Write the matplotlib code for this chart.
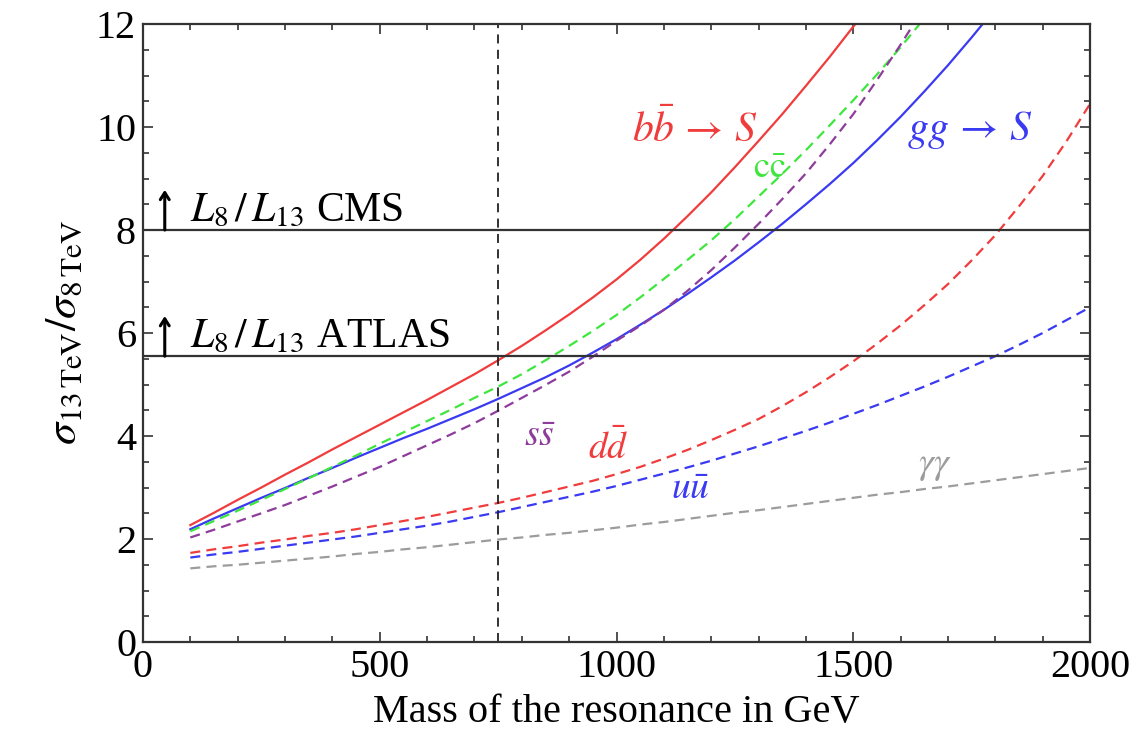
import matplotlib
matplotlib.use("Agg")
import matplotlib.pyplot as plt
from matplotlib.ticker import MultipleLocator
import numpy as np

plt.rcParams['font.family'] = ['Liberation Serif', 'DejaVu Serif']
plt.rcParams['mathtext.fontset'] = 'stix'

# ratio sigma(13 TeV)/sigma(8 TeV) vs resonance mass (GeV), 50 GeV steps
mass = list(range(100, 2001, 50))

bb = [2.27, 2.51, 2.76, 3.00, 3.25, 3.49, 3.74, 3.98, 4.22, 4.46,
      4.70, 4.95, 5.20, 5.47, 5.75, 6.05, 6.36, 6.69, 7.04, 7.42,
      7.83, 8.27, 8.73, 9.22, 9.73, 10.25, 10.80, 11.36, 11.95, 12.53,
      13.15]
gg = [2.19, 2.40, 2.60, 2.80, 2.99, 3.19, 3.38, 3.58, 3.77, 3.96,
      4.14, 4.33, 4.52, 4.72, 4.93, 5.14, 5.37, 5.62, 5.88, 6.16,
      6.45, 6.76, 7.08, 7.41, 7.76, 8.12, 8.50, 8.89, 9.30, 9.74,
      10.20, 10.69, 11.20, 11.74, 12.30]
cc = [2.15, 2.35, 2.55, 2.76, 2.97, 3.18, 3.40, 3.62, 3.85, 4.07,
      4.29, 4.51, 4.74, 4.96, 5.20, 5.47, 5.75, 6.04, 6.35, 6.69,
      7.05, 7.42, 7.80, 8.21, 8.65, 9.09, 9.55, 10.03, 10.52, 11.02,
      11.55, 12.11, 12.70]
ss = [2.03, 2.18, 2.34, 2.50, 2.66, 2.84, 3.02, 3.21, 3.40, 3.61,
      3.82, 4.03, 4.25, 4.49, 4.74, 4.99, 5.25, 5.54, 5.85, 6.14,
      6.45, 6.82, 7.22, 7.66, 8.12, 8.60, 9.10, 9.66, 10.25, 10.91,
      11.60, 12.33, 13.10]
dd = [1.73, 1.80, 1.86, 1.93, 1.99, 2.06, 2.12, 2.19, 2.27, 2.35,
      2.43, 2.52, 2.61, 2.70, 2.80, 2.91, 3.02, 3.13, 3.26, 3.40,
      3.56, 3.73, 3.92, 4.12, 4.33, 4.58, 4.85, 5.14, 5.45, 5.79,
      6.15, 6.54, 6.95, 7.41, 7.90, 8.46, 9.05, 9.72, 10.45]
uu = [1.64, 1.70, 1.75, 1.81, 1.87, 1.93, 1.99, 2.05, 2.12, 2.19,
      2.26, 2.34, 2.43, 2.52, 2.62, 2.72, 2.82, 2.92, 3.03, 3.15,
      3.27, 3.39, 3.52, 3.66, 3.80, 3.95, 4.10, 4.26, 4.43, 4.60,
      4.78, 4.96, 5.15, 5.35, 5.55, 5.77, 6.00, 6.25, 6.50]
aa = [1.43, 1.47, 1.50, 1.54, 1.58, 1.62, 1.66, 1.71, 1.75, 1.80,
      1.84, 1.89, 1.94, 1.99, 2.03, 2.08, 2.12, 2.17, 2.22, 2.28,
      2.33, 2.39, 2.45, 2.51, 2.56, 2.62, 2.68, 2.74, 2.80, 2.86,
      2.91, 2.97, 3.02, 3.08, 3.14, 3.20, 3.26, 3.32, 3.38]

# luminosity ratios and the 750 GeV mass
lumi_cms = 8.0
lumi_atlas = 5.55
m_750 = 750

red = '#f03c3c'
blue = '#3a3af2'
green = '#3ee63e'
purple = '#8e3c9c'
gray = '#9c9c9c'

fig = plt.figure(figsize=(11.42, 7.44), dpi=100)
ax = fig.add_axes([0.1252, 0.1371, 0.8293, 0.8306])

dash = (0, (4.5, 2.8))
ax.plot(mass[:len(bb)], bb, color=red, lw=1.6)
ax.plot(mass[:len(gg)], gg, color=blue, lw=1.6)
ax.plot(mass[:len(cc)], cc, color=green, lw=1.6, linestyle=dash)
ax.plot(mass[:len(ss)], ss, color=purple, lw=1.6, linestyle=dash)
ax.plot(mass, dd, color=red, lw=1.6, linestyle=dash)
ax.plot(mass, uu, color=blue, lw=1.6, linestyle=dash)
ax.plot(mass, aa, color=gray, lw=1.6, linestyle=dash)

ax.axhline(lumi_cms, color='#333333', lw=1.6)
ax.axhline(lumi_atlas, color='#333333', lw=1.6)
ax.axvline(m_750, color='#222222', lw=1.3, linestyle=(0, (5, 3.5)))

# luminosity labels with arrows
for yv, name in [(lumi_cms, 'CMS'), (lumi_atlas, 'ATLAS')]:
    ax.annotate('', xy=(46, yv + 0.78), xytext=(46, yv),
                arrowprops=dict(arrowstyle='->,head_length=0.5,head_width=0.32',
                                lw=2.2, color='black', shrinkA=0, shrinkB=0))
    ax.text(100, yv + 0.17, r'$L_8\,/\,L_{13}$ ' + name, fontsize=30,
            ha='left', va='baseline')

ax.text(1166, 9.94, r'$b\bar{b}\,\rightarrow\,S$', color=red, fontsize=30,
        ha='center', va='center')
ax.text(1746, 9.94, r'$gg\,\rightarrow\,S$', color=blue, fontsize=30,
        ha='center', va='center')
ax.text(1324, 9.17, r'$\mathrm{c}\bar{\mathrm{c}}$', color=green, fontsize=26,
        ha='center', va='center')
ax.text(838, 3.98, r'$s\bar{s}$', color=purple, fontsize=27,
        ha='center', va='center')
ax.text(982, 3.77, r'$d\bar{d}$', color=red, fontsize=27,
        ha='center', va='center')
ax.text(1155, 2.95, r'$u\bar{u}$', color=blue, fontsize=27,
        ha='center', va='center')
ax.text(1673, 3.42, r'$\gamma\gamma$', color=gray, fontsize=27,
        ha='center', va='center')

ax.set_xlim(0, 2000)
ax.set_ylim(0, 12)
ax.xaxis.set_major_locator(MultipleLocator(500))
ax.xaxis.set_minor_locator(MultipleLocator(100))
ax.yaxis.set_major_locator(MultipleLocator(2))
ax.yaxis.set_minor_locator(MultipleLocator(0.5))
ax.tick_params(which='both', direction='in', top=True, right=True,
               labelsize=29, color='#333333', width=1.2)
ax.tick_params(which='major', length=7, pad=5)
ax.tick_params(which='minor', length=4)
for s in ax.spines.values():
    s.set_linewidth(1.6)
    s.set_color('#333333')

ax.set_xlabel('Mass of the resonance in GeV', fontsize=29, labelpad=6)
ax.set_ylabel(r'$\sigma_{13\,\mathrm{TeV}}/\sigma_{8\,\mathrm{TeV}}$',
              fontsize=32, labelpad=8)

fig.savefig('out.png', dpi=100)
